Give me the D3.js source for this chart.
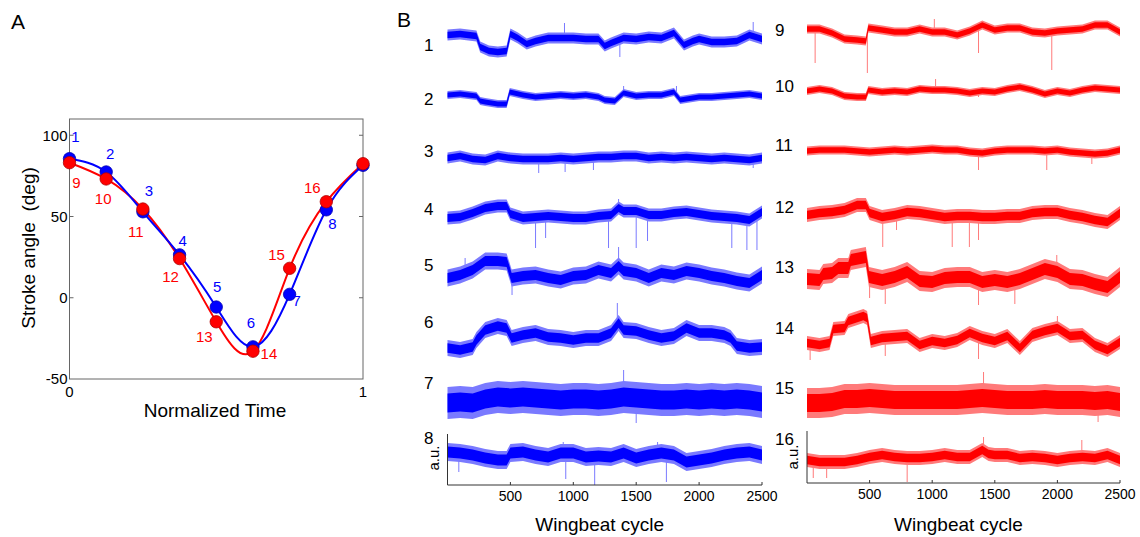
<!DOCTYPE html>
<html><head><meta charset="utf-8">
<script src="https://cdn.jsdelivr.net/npm/d3@7"></script>
<style>body{margin:0;background:#fff} text{font-family:Arial,"Liberation Sans",sans-serif;fill:#000}</style>
</head><body><svg id="c" width="1140" height="537"></svg>
<script>
// ---------------- DATA ----------------
// Panel A
const timePts   = [0, 0.125, 0.25, 0.375, 0.5, 0.625, 0.75, 0.875, 1];
const blueAngle = [85.6, 77.4, 52.9, 26.4, -5.7, -30.2, 2.1, 54.1, 81.5];
const redAngle  = [83.1, 73.1, 54.6, 24.1, -14.8, -32.9, 18.1, 59.1, 82.5];
const blueNames = ["1","2","3","4","5","6","7","8"];
const redNames  = ["9","10","11","12","13","14","15","16"];
const angleTicks = [-50, 0, 50, 100];
const timeTicks  = [0, 1];
// Panel B : centre line of each trace, [wingbeat cycle, a.u.]
const t1 = [[0,3],[100,4],[230,2],[260,-9],[330,-13],[400,-14],[470,-13],[500,4],[560,0],[630,-6],[700,-3],[800,0],[900,0],[1000,0],[1100,-1],[1200,-1],[1250,-8],[1300,-5],[1400,0],[1500,-1],[1600,1],[1700,0],[1800,5],[1880,-7],[1950,-3],[2000,-1],[2100,-4],[2200,-4],[2300,-3],[2400,3],[2500,-1]];
const t2 = [[0,0],[100,1],[230,-1],[260,-6],[300,-7],[400,-9],[470,-9],[495,3],[600,0],[700,-2],[800,-1],[900,0],[1000,-1],[1100,0],[1200,-2],[1250,-5],[1330,-6],[1400,2],[1500,-1],[1600,0],[1700,0],[1800,3],[1850,-5],[1950,-3],[2000,-2],[2100,-2],[2200,-1],[2300,0],[2400,1],[2500,-1]];
const t3 = [[0,0],[100,2],[200,-1],[300,-2],[400,2],[500,0],[600,-1],[700,-1],[800,-1],[900,0],[1000,-1],[1100,0],[1200,1],[1300,1],[1400,2],[1500,2],[1600,0],[1700,1],[1800,0],[1900,1],[2000,0],[2100,-1],[2200,0],[2300,-1],[2400,-2],[2500,0]];
const t4 = [[0,0],[100,1],[200,5],[300,10],[400,12],[470,12],[500,4],[600,0],[700,1],[800,2],[900,1],[1000,0],[1100,0],[1200,2],[1300,3],[1360,10],[1400,7],[1500,7],[1600,3],[1700,3],[1800,5],[1900,6],[2000,4],[2100,2],[2200,1],[2300,0],[2400,-2],[2500,6]];
const t5 = [[0,0],[100,3],[200,8],[300,17],[400,17],[470,16],[510,0],[600,2],[700,3],[800,0],[900,-2],[1000,2],[1100,3],[1200,8],[1300,5],[1360,12],[1400,7],[1500,5],[1600,0],[1700,5],[1800,3],[1900,7],[2000,5],[2100,2],[2200,0],[2300,-3],[2400,-5],[2500,3]];
const t6 = [[0,0],[100,-2],[200,1],[230,8],[300,18],[400,22],[470,20],[510,10],[600,13],[700,15],[800,11],[900,10],[1000,8],[1100,10],[1200,10],[1300,15],[1360,25],[1400,18],[1500,17],[1600,13],[1700,10],[1800,12],[1900,20],[2000,15],[2100,15],[2200,13],[2250,10],[2300,2],[2400,0],[2500,1]];
const t7 = [[0,-3],[100,-2],[200,-3],[300,1],[400,3],[500,2],[600,3],[700,2],[800,1],[900,0],[1000,1],[1100,1],[1200,0],[1300,1],[1400,3],[1500,2],[1600,1],[1700,0],[1800,0],[1900,1],[2000,0],[2100,1],[2200,0],[2300,1],[2400,0],[2500,-2]];
const t8 = [[0,3],[100,2],[200,0],[300,-3],[400,-5],[470,-5],[500,2],[600,3],[700,0],[800,-2],[900,2],[1000,2],[1100,-2],[1200,-1],[1300,-2],[1400,2],[1500,-3],[1600,0],[1700,2],[1800,0],[1900,-7],[2000,-5],[2100,-3],[2200,0],[2300,2],[2400,3],[2500,0]];
const t9 = [[0,1],[100,1],[200,-3],[300,-9],[400,-10],[470,-11],[490,2],[600,0],[700,-2],[800,-2],[900,1],[1000,-2],[1100,-2],[1200,-5],[1300,-1],[1400,5],[1500,0],[1600,2],[1700,2],[1800,-2],[1900,-3],[2000,-1],[2100,0],[2200,1],[2300,5],[2400,5],[2500,-2]];
const t10 = [[0,-1],[100,1],[200,-1],[300,-6],[400,-7],[470,-7],[490,0],[600,-2],[700,-1],[800,-2],[900,1],[1000,0],[1100,0],[1200,-1],[1300,-3],[1400,-1],[1500,-2],[1600,1],[1700,3],[1800,0],[1900,-4],[2000,-1],[2100,-3],[2200,0],[2300,2],[2400,1],[2500,0]];
const t11 = [[0,0],[100,1],[200,1],[300,1],[400,0],[500,-1],[600,0],[700,1],[800,0],[900,1],[1000,2],[1100,1],[1200,1],[1300,-1],[1400,-2],[1500,0],[1600,1],[1700,1],[1800,1],[1900,0],[2000,1],[2100,-1],[2200,-2],[2300,-3],[2400,-2],[2500,1]];
const t12 = [[0,0],[100,2],[200,3],[300,5],[400,10],[470,10],[500,2],[600,-2],[700,0],[800,3],[900,2],[1000,0],[1100,-2],[1200,-1],[1300,-1],[1400,-2],[1500,-2],[1600,-1],[1700,-1],[1800,2],[1900,3],[2000,3],[2100,0],[2200,-2],[2300,-5],[2400,-7],[2500,2]];
const t13 = [[0,-2],[100,-3],[130,3],[200,4],[250,9],[330,9],[350,17],[470,20],[495,0],[600,-3],[700,0],[800,5],[900,-4],[1000,-5],[1100,-1],[1200,0],[1300,0],[1400,-5],[1500,-3],[1600,-5],[1700,-2],[1800,3],[1900,8],[2000,5],[2100,-2],[2200,-3],[2300,-7],[2400,-10],[2500,0]];
const t14 = [[0,0],[100,-2],[180,0],[210,14],[300,15],[330,22],[450,27],[480,25],[510,2],[600,5],[700,6],[800,7],[900,-2],[1000,2],[1100,0],[1200,3],[1300,10],[1400,5],[1500,2],[1600,7],[1700,-5],[1800,8],[1900,12],[2000,15],[2100,7],[2200,8],[2300,-2],[2400,-7],[2500,1]];
const t15 = [[0,-3],[100,-3],[200,-2],[300,1],[400,1],[500,2],[600,1],[700,0],[800,0],[900,0],[1000,0],[1100,0],[1200,0],[1300,1],[1400,2],[1500,1],[1600,0],[1700,0],[1800,0],[1900,1],[2000,0],[2100,0],[2200,0],[2300,-1],[2400,0],[2500,-2]];
const t16 = [[0,0],[100,-2],[200,-2],[300,-2],[400,0],[500,3],[600,5],[700,3],[800,2],[900,2],[1000,3],[1100,5],[1200,3],[1300,3],[1400,10],[1450,6],[1500,5],[1600,5],[1700,2],[1800,3],[1900,2],[2000,0],[2100,2],[2200,3],[2300,2],[2400,5],[2500,0]];
// noise half-width of each trace (a.u.)
const noiseWidth = [5.5, 4, 5.5, 6.5, 8.5, 8, 16, 9, 4.5, 4, 4.5, 7, 10, 7, 15, 7];
// isolated spikes [cycle, a.u.]
const s1 = [[930,15],[2430,16],[1370,-19]];
const s2 = [[1400,9],[1820,9]];
const s3 = [[725,-15],[935,-14],[1160,-12],[2430,-10]];
const s4 = [[700,-30],[780,-20],[1280,-30],[1500,-30],[1590,-23],[2260,-30],[2380,-32],[2460,-32],[1360,19]];
const s5 = [[140,20],[1360,31],[513,-17]];
const s6 = [[1350,45]];
const s7 = [[1400,30],[1500,-23]];
const s8 = [[90,-17],[940,-24],[1170,-30],[1740,-27],[920,13],[1670,13]];
const s9 = [[65,-33],[482,-43],[1370,-23],[1955,-40],[1017,11]];
const s10 = [[1027,11],[1370,-7]];
const s11 = [[1370,-19],[1915,-19],[2275,-13]];
const s12 = [[605,-32],[715,-15],[1160,-32],[1297,-32],[1370,-25]];
const s13 = [[1995,22],[500,-21],[625,-27],[1370,-28],[1660,-27]];
const s14 = [[2000,27],[25,-17],[625,-13],[1370,-16]];
const s15 = [[1410,28],[2325,-22]];
const s16 = [[800,-22],[50,-18],[157,-18],[2195,20],[1410,23]];
const traceNames = ["1","2","3","4","5","6","7","8","9","10","11","12","13","14","15","16"];
const cycleTicks = [500, 1000, 1500, 2000, 2500];

const traces = [t1,t2,t3,t4,t5,t6,t7,t8,t9,t10,t11,t12,t13,t14,t15,t16];
const spikes = [s1,s2,s3,s4,s5,s6,s7,s8,s9,s10,s11,s12,s13,s14,s15,s16];

// ---------------- LAYOUT ----------------
const svg = d3.select("#c");
const BLUE = "#0000ff", RED = "#ff0000";

// ---- Panel A
const xA = d3.scaleLinear([0, 1], [69.5, 363]);
const yA = d3.scaleLinear([-50, 110], [379, 119]);
const gA = svg.append("g");
gA.append("text").attr("x", 11).attr("y", 29).attr("font-size", 21).text("A");
gA.append("rect").attr("x", xA(0)).attr("y", yA(110)).attr("width", xA(1) - xA(0)).attr("height", yA(-50) - yA(110))
  .attr("fill", "none").attr("stroke", "#666").attr("stroke-width", 1);
angleTicks.forEach(v => {
  gA.append("text").attr("x", xA(0) - 2).attr("y", yA(v)).attr("dy", "0.36em").attr("text-anchor", "end")
    .attr("font-size", 15).text(v);
  if (v > -50) {
    gA.append("line").attr("x1", xA(0)).attr("x2", xA(0) + 4).attr("y1", yA(v)).attr("y2", yA(v)).attr("stroke", "#666");
    gA.append("line").attr("x1", xA(1)).attr("x2", xA(1) - 4).attr("y1", yA(v)).attr("y2", yA(v)).attr("stroke", "#666");
  }
});
timeTicks.forEach(v => {
  gA.append("text").attr("x", xA(v)).attr("y", 392).attr("dy", "0.36em").attr("text-anchor", "middle")
    .attr("font-size", 15).text(v);
});
gA.append("text").attr("x", 215).attr("y", 410).attr("dy", "0.36em").attr("text-anchor", "middle")
  .attr("font-size", 19).text("Normalized Time");
gA.append("text").attr("transform", "translate(28,248) rotate(-90)").attr("dy", "0.36em").attr("text-anchor", "middle")
  .attr("font-size", 19).attr("xml:space", "preserve").style("white-space", "pre").text("Stroke angle  (deg)");

const lineA = d3.line().x((d, i) => xA(timePts[i])).y(d => yA(d)).curve(d3.curveNatural);
gA.append("path").attr("d", lineA(redAngle)).attr("fill", "none").attr("stroke", RED).attr("stroke-width", 2);
gA.append("path").attr("d", lineA(blueAngle)).attr("fill", "none").attr("stroke", BLUE).attr("stroke-width", 2);
gA.selectAll(".bd").data(blueAngle).join("circle").attr("cx", (d, i) => xA(timePts[i])).attr("cy", d => yA(d))
  .attr("r", 6.2).attr("fill", BLUE).attr("stroke", "#0000b0").attr("stroke-width", 0.8);
gA.selectAll(".rd").data(redAngle).join("circle").attr("cx", (d, i) => xA(timePts[i])).attr("cy", d => yA(d))
  .attr("r", 6.2).attr("fill", RED).attr("stroke", "#b00000").attr("stroke-width", 0.8);
// label offsets (px) relative to the points
const blueOff = [[6,-22],[4,-18],[6,-21],[3,-14],[1,-20],[-2,-24],[7,6],[6,14]];
const redOff  = [[7,20],[-3,20],[-7,23],[-9,18],[-12,15],[16,2],[-13,-14],[-14,-14]];
blueNames.forEach((n, i) => {
  gA.append("text").attr("x", xA(timePts[i]) + blueOff[i][0]).attr("y", yA(blueAngle[i]) + blueOff[i][1])
    .attr("dy", "0.36em").attr("text-anchor", "middle").attr("font-size", 15).style("fill", BLUE).text(n);
});
redNames.forEach((n, i) => {
  gA.append("text").attr("x", xA(timePts[i]) + redOff[i][0]).attr("y", yA(redAngle[i]) + redOff[i][1])
    .attr("dy", "0.36em").attr("text-anchor", "middle").attr("font-size", 15).style("fill", RED).text(n);
});

// ---- Panel B
svg.append("text").attr("x", 397).attr("y", 27).attr("font-size", 21).text("B");
const xL = d3.scaleLinear([0, 2500], [447.5, 762]);
const xR = d3.scaleLinear([0, 2500], [807, 1120]);
const baseY = [38, 95, 158, 218, 278, 348, 400, 455, 30, 90, 151, 215, 277, 343, 400, 460];
const labelY = [45, 99, 151, 209, 265, 322, 383, 438, 30, 86, 145, 207, 267, 328, 388, 439];

traces.forEach((tr, k) => {
  const left = k < 8;
  const x = left ? xL : xR;
  const col = left ? BLUE : RED;
  const light = left ? "#7a7aff" : "#ff7a7a";
  const y = d3.scaleLinear([-50, 50], [baseY[k] + 50, baseY[k] - 50]);
  const w = noiseWidth[k];
  const g = svg.append("g");
  const centre = d3.scaleLinear(tr.map(d => d[0]), tr.map(d => d[1]));
  spikes[k].forEach(s => {
    g.append("line").attr("x1", x(s[0])).attr("x2", x(s[0])).attr("y1", y(centre(s[0]))).attr("y2", y(s[1]))
      .attr("stroke", light).attr("stroke-width", 1);
  });
  const outer = d3.area().x(d => x(d[0])).y0(d => y(d[1] - w)).y1(d => y(d[1] + w));
  const inner = d3.area().x(d => x(d[0])).y0(d => y(d[1] - w * 0.6)).y1(d => y(d[1] + w * 0.6));
  g.append("path").attr("d", outer(tr)).attr("fill", light);
  g.append("path").attr("d", inner(tr)).attr("fill", col);
  svg.append("text").attr("x", left ? 424 : 775).attr("y", labelY[k]).attr("dy", "0.36em")
    .attr("font-size", 17).text(traceNames[k]);
});

function bottomAxis(x, axisY, topY) {
  const g = svg.append("g");
  g.append("line").attr("x1", x(0)).attr("x2", x(2500)).attr("y1", axisY).attr("y2", axisY).attr("stroke", "#333");
  g.append("line").attr("x1", x(0)).attr("x2", x(0)).attr("y1", topY).attr("y2", axisY).attr("stroke", "#333");
  cycleTicks.forEach(v => {
    g.append("line").attr("x1", x(v)).attr("x2", x(v)).attr("y1", axisY).attr("y2", axisY - 3).attr("stroke", "#333");
    g.append("text").attr("x", x(v)).attr("y", axisY + 11).attr("dy", "0.36em").attr("text-anchor", "middle")
      .attr("font-size", 14).text(v);
  });
  g.append("text").attr("x", (x(0) + x(2500)) / 2 - 5).attr("y", 524).attr("dy", "0.36em").attr("text-anchor", "middle")
    .attr("font-size", 19).text("Wingbeat cycle");
}
bottomAxis(xL, 485, 434);
bottomAxis(xR, 483, 431);
svg.append("text").attr("transform", "translate(434,458) rotate(-90)").attr("dy", "0.36em").attr("text-anchor", "middle")
  .attr("font-size", 15).text("a.u.");
svg.append("text").attr("transform", "translate(793,457) rotate(-90)").attr("dy", "0.36em").attr("text-anchor", "middle")
  .attr("font-size", 15).text("a.u.");
</script></body></html>
